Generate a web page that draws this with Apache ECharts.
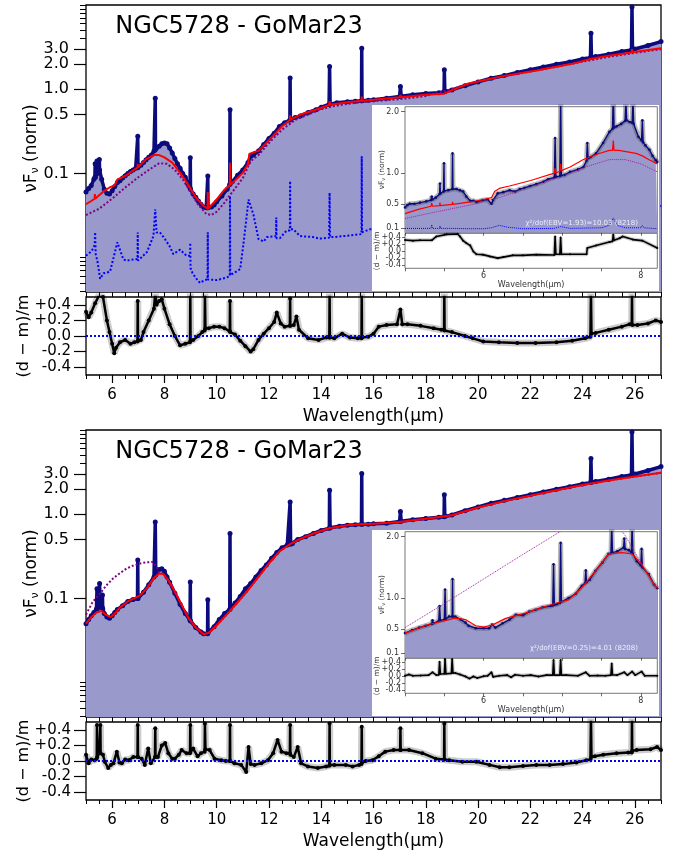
<!DOCTYPE html>
<html><head><meta charset="utf-8">
<script src="https://cdn.jsdelivr.net/npm/echarts@6/dist/echarts.min.js"></script>
<style>html,body{margin:0;padding:0;background:#fff}#c{width:676px;height:854px}</style>
</head><body><div id="c"></div>
<script>
// ---------------- DATA ----------------
const mainXTicks = [6,8,10,12,14,16,18,20,22,24,26];
const mainXMinor = [5,5.5,6,6.5,7,7.5,8,8.5,9,9.5,10,10.5,11,11.5,12,12.5,13,13.5,14,14.5,15,15.5,16,16.5,17,17.5,18,18.5,19,19.5,20,20.5,21,21.5,22,22.5,23,23.5,24,24.5,25,25.5,26,26.5,27];
const mainYTicks = [0.1,0.5,1.0,2.0,3.0];
const mainYMinor = [0.004,0.005,0.006,0.007,0.008,0.009,0.01,4,5,6,7,8,9,10];
const residTicks = [-0.4,-0.2,0,0.2,0.4];
const insetXTicks = [6,8];
const insetXMinor = [5,5.5,6,6.5,7,7.5,8];
const insetYTicks = [0.1,0.5,1.0,2.0];

const titleText = 'NGC5728 - GoMar23';
const topChi = 'χ²/dof(EBV=1.93)=10.03 (8218)';
const botChi = 'χ²/dof(EBV=0.25)=4.01 (8208)';

// top panel: observed spectrum [wavelength, nuFnu]
const topData = [[5.0,0.060],[5.1,0.066],[5.2,0.072],[5.3,0.085],[5.34,0.09],[5.35,0.13],[5.36,0.09],[5.4,0.10],[5.42,0.14],[5.43,0.10],[5.5,0.11],[5.51,0.146],[5.52,0.11],[5.6,0.085],[5.7,0.065],[5.8,0.058],[5.9,0.057],[6.0,0.062],[6.1,0.070],[6.2,0.078],[6.3,0.082],[6.4,0.088],[6.5,0.094],[6.6,0.100],[6.7,0.105],[6.8,0.110],[6.9,0.115],[6.97,0.117],[6.98,0.276],[6.99,0.118],[7.1,0.125],[7.2,0.135],[7.3,0.145],[7.4,0.155],[7.5,0.165],[7.6,0.185],[7.64,0.19],[7.65,0.78],[7.66,0.195],[7.7,0.2],[7.8,0.21],[7.9,0.225],[8.0,0.23],[8.1,0.225],[8.2,0.2],[8.3,0.175],[8.4,0.15],[8.5,0.13],[8.6,0.115],[8.7,0.1],[8.8,0.09],[8.9,0.075],[8.98,0.067],[8.99,0.153],[9.0,0.065],[9.1,0.057],[9.2,0.052],[9.3,0.047],[9.4,0.043],[9.5,0.040],[9.6,0.039],[9.65,0.039],[9.66,0.093],[9.67,0.039],[9.8,0.040],[9.9,0.042],[10.0,0.046],[10.2,0.054],[10.4,0.065],[10.5,0.074],[10.51,0.57],[10.52,0.076],[10.6,0.08],[10.8,0.095],[11.0,0.11],[11.2,0.135],[11.3,0.16],[11.4,0.165],[11.6,0.185],[11.8,0.22],[12.0,0.26],[12.2,0.3],[12.4,0.36],[12.6,0.4],[12.8,0.43],[12.81,1.36],[12.82,0.435],[13.0,0.46],[13.2,0.48],[13.5,0.53],[13.8,0.57],[14.0,0.61],[14.3,0.66],[14.32,1.86],[14.34,0.665],[14.6,0.69],[15.0,0.71],[15.3,0.72],[15.54,0.73],[15.55,3.07],[15.56,0.73],[15.8,0.74],[16.0,0.75],[16.5,0.78],[17.0,0.82],[17.03,1.08],[17.06,0.825],[17.5,0.86],[18.0,0.89],[18.5,0.91],[18.7,0.93],[18.71,1.70],[18.73,0.935],[19.0,0.98],[19.5,1.1],[20.0,1.22],[20.5,1.35],[21.0,1.45],[21.5,1.58],[22.0,1.70],[22.5,1.84],[23.0,1.98],[23.5,2.10],[24.0,2.28],[24.3,2.38],[24.32,4.62],[24.34,2.4],[24.5,2.45],[25.0,2.6],[25.5,2.8],[25.87,2.93],[25.89,9.5],[25.91,2.94],[26.0,3.0],[26.5,3.3],[27.0,3.68]];
const topModel = [[5.0,0.043],[5.2,0.047],[5.33,0.05],[5.34,0.057],[5.35,0.05],[5.5,0.055],[5.7,0.062],[5.9,0.068],[6.1,0.072],[6.2,0.085],[6.5,0.093],[6.8,0.108],[6.97,0.117],[6.98,0.13],[6.99,0.118],[7.3,0.148],[7.6,0.165],[7.8,0.165],[8.0,0.155],[8.3,0.134],[8.6,0.102],[8.9,0.074],[9.2,0.052],[9.5,0.041],[9.65,0.038],[9.66,0.06],[9.67,0.038],[10.0,0.049],[10.3,0.064],[10.5,0.072],[10.51,0.134],[10.52,0.073],[10.8,0.088],[11.0,0.102],[11.2,0.13],[11.25,0.17],[11.4,0.178],[11.6,0.185],[11.9,0.23],[12.2,0.289],[12.5,0.363],[12.8,0.43],[12.81,0.49],[12.82,0.435],[13.2,0.5],[13.8,0.57],[14.3,0.65],[14.32,0.72],[14.34,0.655],[15.0,0.7],[15.54,0.73],[15.55,0.82],[15.56,0.73],[16.0,0.75],[17.0,0.8],[17.03,0.85],[17.06,0.8],[18.0,0.86],[18.7,0.885],[18.71,0.93],[18.72,0.89],[19.6,1.16],[20.9,1.42],[22.24,1.67],[23.6,2.0],[24.3,2.28],[24.32,2.4],[24.34,2.3],[25.0,2.5],[25.88,2.73],[25.89,3.0],[25.9,2.74],[27.0,3.07]];
const topPurple = [[5.0,0.032],[5.5,0.038],[6.0,0.05],[6.5,0.068],[7.0,0.09],[7.5,0.115],[7.8,0.132],[8.1,0.13],[8.4,0.11],[8.7,0.085],[9.0,0.06],[9.3,0.042],[9.6,0.033],[9.8,0.032],[10.0,0.035],[10.3,0.045],[10.6,0.06],[11.0,0.088],[11.3,0.14],[11.6,0.165],[12.0,0.23],[12.5,0.33],[13.0,0.43],[13.5,0.5],[14.0,0.58],[14.5,0.63],[15.0,0.67],[15.5,0.7],[16.0,0.72],[17.0,0.76],[18.0,0.83],[19.0,1.0],[20.0,1.24],[21.0,1.42],[22.0,1.62],[23.0,1.85],[24.0,2.12],[25.0,2.42],[26.0,2.7],[27.0,2.98]];
const topBlue = [[5.0,0.0105],[5.22,0.012],[5.33,0.014],[5.35,0.02],[5.37,0.011],[5.44,0.009],[5.54,0.0056],[5.67,0.0065],[5.92,0.0068],[6.2,0.0152],[6.43,0.0095],[6.56,0.0092],[6.81,0.0095],[6.97,0.0096],[6.98,0.0199],[6.99,0.0092],[7.04,0.0092],[7.33,0.0116],[7.58,0.018],[7.65,0.0375],[7.7,0.0199],[7.83,0.0199],[8.02,0.0166],[8.21,0.0135],[8.34,0.011],[8.6,0.0124],[8.85,0.0105],[8.98,0.0105],[8.99,0.015],[9.0,0.0075],[9.08,0.0065],[9.23,0.0056],[9.36,0.005],[9.55,0.0054],[9.65,0.0055],[9.66,0.02],[9.67,0.0055],[9.74,0.0056],[10.0,0.0054],[10.38,0.0058],[10.5,0.006],[10.51,0.054],[10.52,0.0062],[10.64,0.0065],[10.9,0.0073],[11.03,0.015],[11.22,0.049],[11.41,0.032],[11.6,0.0166],[11.8,0.0155],[11.92,0.0175],[12.27,0.018],[12.28,0.03],[12.29,0.017],[12.42,0.017],[12.68,0.021],[12.8,0.021],[12.81,0.081],[12.82,0.0217],[12.93,0.0217],[13.19,0.018],[13.7,0.0175],[13.95,0.0168],[14.3,0.0172],[14.32,0.059],[14.34,0.0175],[14.46,0.0175],[15.23,0.0185],[15.54,0.019],[15.55,0.16],[15.56,0.02],[15.87,0.0217],[17.0,0.022],[18.7,0.022],[18.71,0.05],[18.72,0.022],[20.0,0.021],[22.0,0.022],[24.3,0.024],[24.32,0.08],[24.34,0.025],[25.87,0.028],[25.89,0.1],[25.91,0.03],[27.0,0.041]];
const topResid = [[5.0,0.31],[5.1,0.24],[5.2,0.3],[5.35,0.42],[5.5,0.52],[5.65,0.5],[5.8,0.2],[5.9,0.05],[6.0,-0.1],[6.08,-0.22],[6.15,-0.15],[6.3,-0.08],[6.5,-0.05],[6.7,-0.1],[6.85,-0.08],[6.97,-0.07],[6.98,0.45],[6.99,-0.06],[7.1,-0.05],[7.2,0.05],[7.4,0.2],[7.6,0.35],[7.65,0.55],[7.7,0.4],[7.8,0.45],[7.9,0.47],[8.0,0.35],[8.2,0.15],[8.4,0.0],[8.6,-0.12],[8.8,-0.1],[8.98,-0.08],[8.99,0.55],[9.0,-0.06],[9.1,-0.05],[9.3,0.0],[9.45,0.05],[9.54,0.07],[9.55,0.55],[9.57,0.1],[9.7,0.1],[9.9,0.12],[10.1,0.12],[10.3,0.1],[10.5,0.06],[10.51,0.45],[10.52,0.05],[10.7,0.02],[10.9,-0.06],[11.1,-0.13],[11.3,-0.2],[11.4,-0.17],[11.6,-0.05],[11.8,0.03],[12.0,0.1],[12.2,0.18],[12.3,0.3],[12.45,0.16],[12.6,0.12],[12.8,0.13],[12.81,0.48],[12.82,0.13],[12.95,0.14],[13.05,0.25],[13.15,0.08],[13.5,-0.03],[13.9,-0.05],[14.2,-0.02],[14.31,-0.02],[14.32,0.55],[14.33,-0.02],[14.5,-0.03],[14.8,0.03],[15.1,-0.02],[15.4,-0.03],[15.54,-0.03],[15.55,0.55],[15.56,-0.02],[15.8,-0.01],[16.0,0.03],[16.2,0.12],[16.5,0.14],[16.9,0.15],[17.03,0.34],[17.1,0.15],[17.3,0.15],[17.8,0.13],[18.3,0.1],[18.6,0.08],[18.7,0.08],[18.71,0.55],[18.72,0.07],[19.0,0.05],[19.5,0.0],[19.8,-0.03],[20.2,-0.07],[20.8,-0.08],[21.5,-0.09],[22.2,-0.09],[23.0,-0.08],[23.6,-0.06],[24.1,-0.03],[24.3,-0.01],[24.32,0.55],[24.34,0.03],[24.5,0.04],[25.0,0.08],[25.5,0.12],[25.8,0.15],[25.88,0.15],[25.89,0.55],[25.9,0.14],[26.1,0.14],[26.5,0.16],[26.8,0.2],[27.0,0.18]];

// top inset (5-8.2 micron, linear)
const tiData = [[5.0,0.44],[5.03,0.48],[5.06,0.5],[5.12,0.5],[5.19,0.52],[5.27,0.54],[5.33,0.56],[5.34,0.62],[5.35,0.57],[5.39,0.6],[5.44,0.66],[5.445,0.83],[5.45,0.67],[5.49,0.7],[5.496,1.16],[5.5,0.71],[5.55,0.72],[5.6,0.74],[5.605,1.32],[5.61,0.74],[5.656,0.74],[5.7,0.72],[5.74,0.7],[5.78,0.62],[5.83,0.55],[5.87,0.55],[5.91,0.53],[5.99,0.56],[6.05,0.57],[6.1,0.5],[6.12,0.56],[6.18,0.67],[6.25,0.69],[6.33,0.72],[6.4,0.7],[6.46,0.74],[6.52,0.76],[6.59,0.79],[6.67,0.82],[6.76,0.86],[6.82,0.9],[6.9,0.93],[6.91,1.57],[6.92,0.94],[6.97,0.95],[6.98,2.3],[6.99,0.96],[7.03,0.97],[7.1,1.02],[7.2,1.06],[7.27,1.1],[7.31,1.2],[7.32,1.49],[7.33,1.24],[7.36,1.26],[7.43,1.32],[7.52,1.49],[7.6,1.67],[7.64,1.72],[7.65,2.3],[7.66,1.74],[7.69,1.76],[7.75,1.8],[7.8,1.85],[7.81,2.2],[7.82,1.86],[7.86,1.83],[7.89,1.82],[7.9,2.2],[7.91,1.8],[7.97,1.59],[8.01,1.53],[8.02,1.86],[8.03,1.5],[8.06,1.45],[8.11,1.38],[8.15,1.28],[8.19,1.21],[8.21,1.18]];
const tiModel = [[5.0,0.34],[5.17,0.41],[5.33,0.46],[5.34,0.51],[5.35,0.46],[5.44,0.47],[5.445,0.52],[5.45,0.47],[5.6,0.49],[5.605,0.53],[5.61,0.49],[5.83,0.53],[6.0,0.57],[6.1,0.6],[6.14,0.7],[6.2,0.75],[6.33,0.79],[6.6,0.88],[6.9,1.0],[6.91,1.08],[6.92,1.0],[6.97,1.03],[6.98,1.15],[6.99,1.04],[7.1,1.1],[7.27,1.22],[7.45,1.31],[7.6,1.37],[7.64,1.37],[7.65,1.53],[7.66,1.37],[7.72,1.37],[7.94,1.32],[8.02,1.28],[8.1,1.22],[8.21,1.15]];
const tiPurple = [[5.0,0.26],[5.4,0.37],[5.83,0.48],[6.2,0.6],[6.6,0.78],[7.0,0.95],[7.3,1.1],[7.6,1.22],[7.8,1.22],[8.0,1.15],[8.21,1.02]];
const tiBlue = [[5.0,0.1],[5.2,0.1],[5.33,0.1],[5.34,0.16],[5.35,0.1],[5.44,0.1],[5.445,0.14],[5.45,0.1],[5.6,0.1],[5.605,0.13],[5.61,0.1],[5.8,0.095],[6.0,0.095],[6.1,0.11],[6.2,0.15],[6.3,0.12],[6.5,0.095],[6.9,0.1],[6.91,0.13],[6.92,0.1],[6.98,0.13],[7.1,0.1],[7.5,0.11],[7.6,0.15],[7.65,0.27],[7.7,0.15],[7.8,0.11],[8.0,0.11],[8.02,0.15],[8.04,0.11],[8.21,0.095]];
const tiResid = [[5.0,0.31],[5.1,0.29],[5.19,0.3],[5.34,0.3],[5.4,0.41],[5.53,0.47],[5.67,0.48],[5.7,0.41],[5.74,0.29],[5.78,0.22],[5.83,0.15],[5.87,-0.02],[5.91,-0.1],[5.99,-0.11],[6.08,-0.16],[6.18,-0.21],[6.25,-0.18],[6.37,-0.13],[6.5,-0.13],[6.67,-0.11],[6.9,-0.12],[6.91,0.41],[6.92,-0.1],[6.97,-0.1],[6.98,0.38],[6.99,-0.1],[7.1,-0.1],[7.31,-0.1],[7.32,0.08],[7.43,0.15],[7.6,0.25],[7.64,0.27],[7.65,0.46],[7.66,0.3],[7.73,0.36],[7.77,0.41],[7.9,0.32],[8.02,0.29],[8.21,0.08]];

// bottom panel
const botData = [[5.0,0.05],[5.1,0.056],[5.2,0.062],[5.3,0.068],[5.4,0.075],[5.42,0.13],[5.44,0.076],[5.5,0.08],[5.52,0.15],[5.54,0.08],[5.62,0.078],[5.63,0.11],[5.64,0.075],[5.7,0.066],[5.8,0.06],[5.9,0.058],[6.0,0.062],[6.1,0.068],[6.2,0.074],[6.4,0.082],[6.6,0.092],[6.8,0.097],[6.97,0.1],[6.98,0.285],[6.99,0.1],[7.2,0.118],[7.4,0.145],[7.6,0.18],[7.65,0.81],[7.67,0.19],[7.7,0.2],[7.8,0.22],[7.9,0.225],[8.0,0.21],[8.1,0.18],[8.2,0.155],[8.4,0.115],[8.6,0.085],[8.8,0.066],[8.98,0.055],[8.99,0.157],[9.0,0.054],[9.2,0.045],[9.4,0.04],[9.5,0.038],[9.65,0.038],[9.66,0.096],[9.67,0.039],[9.9,0.046],[10.1,0.056],[10.3,0.066],[10.5,0.074],[10.51,0.59],[10.52,0.076],[10.7,0.088],[10.9,0.105],[11.1,0.13],[11.3,0.15],[11.5,0.18],[11.7,0.215],[11.9,0.25],[12.1,0.3],[12.3,0.35],[12.5,0.4],[12.7,0.43],[12.81,1.4],[12.83,0.44],[12.9,0.45],[13.1,0.5],[13.4,0.54],[13.7,0.59],[14.0,0.64],[14.31,0.68],[14.32,1.93],[14.34,0.69],[14.7,0.72],[15.0,0.74],[15.3,0.75],[15.54,0.76],[15.55,3.04],[15.56,0.76],[15.8,0.76],[16.0,0.77],[16.5,0.78],[17.0,0.82],[17.03,1.08],[17.06,0.825],[17.5,0.86],[18.0,0.89],[18.5,0.92],[18.7,0.93],[18.71,1.7],[18.73,0.94],[19.0,0.98],[19.5,1.1],[20.0,1.22],[20.5,1.35],[21.0,1.46],[21.5,1.58],[22.0,1.7],[22.5,1.84],[23.0,1.98],[23.5,2.12],[24.0,2.28],[24.3,2.38],[24.32,4.6],[24.34,2.4],[24.5,2.45],[25.0,2.6],[25.5,2.8],[25.87,2.93],[25.89,9.5],[25.91,2.94],[26.0,3.0],[26.5,3.3],[27.0,3.68]];
const botModel = [[5.0,0.05],[5.2,0.06],[5.4,0.068],[5.6,0.071],[5.75,0.064],[5.95,0.06],[6.1,0.066],[6.3,0.078],[6.6,0.092],[6.9,0.102],[7.1,0.11],[7.35,0.135],[7.6,0.175],[7.8,0.198],[7.95,0.195],[8.15,0.165],[8.4,0.12],[8.65,0.085],[8.9,0.06],[9.2,0.045],[9.5,0.0375],[9.7,0.039],[10.0,0.048],[10.4,0.065],[10.8,0.09],[11.2,0.125],[11.6,0.18],[12.0,0.26],[12.4,0.36],[12.8,0.44],[13.2,0.51],[13.7,0.59],[14.3,0.68],[15.0,0.74],[15.5,0.76],[16.0,0.77],[17.0,0.81],[18.0,0.88],[19.0,0.97],[20.0,1.2],[21.0,1.43],[22.0,1.66],[23.0,1.93],[24.0,2.22],[25.0,2.52],[26.0,2.8],[27.0,3.1]];
const botPurple = [[5.0,0.064],[5.25,0.09],[5.54,0.115],[5.8,0.145],[6.04,0.173],[6.3,0.2],[6.56,0.227],[6.8,0.245],[7.07,0.26],[7.3,0.268],[7.55,0.27],[7.7,0.24],[7.8,0.2],[7.95,0.195],[8.15,0.165],[8.4,0.12],[8.65,0.085],[8.9,0.06],[9.2,0.045],[9.5,0.0375],[9.7,0.039],[10.0,0.048],[10.4,0.065],[10.8,0.09],[11.2,0.125],[11.6,0.18],[12.0,0.26],[12.4,0.36],[12.8,0.44],[13.2,0.51],[13.7,0.59],[14.3,0.68],[15.0,0.74],[15.5,0.76],[16.0,0.77],[17.0,0.81],[18.0,0.88],[19.0,0.97],[20.0,1.2],[21.0,1.43],[22.0,1.66],[23.0,1.93],[24.0,2.22],[25.0,2.52],[26.0,2.8],[27.0,3.1]];
const botResid = [[5.0,0.08],[5.1,-0.03],[5.2,0.02],[5.33,0.01],[5.41,0.03],[5.42,0.46],[5.43,0.05],[5.5,0.1],[5.54,0.1],[5.55,0.46],[5.56,0.1],[5.65,0.08],[5.72,-0.01],[5.85,-0.09],[5.95,-0.05],[6.05,-0.03],[6.18,0.12],[6.28,-0.02],[6.37,-0.03],[6.5,0.02],[6.63,0.01],[6.81,0.05],[6.97,0.05],[6.98,0.46],[6.99,0.05],[7.13,0.03],[7.25,-0.05],[7.38,0.16],[7.48,-0.03],[7.64,0.05],[7.65,0.42],[7.66,0.05],[7.75,0.05],[7.9,0.2],[8.03,0.23],[8.15,0.1],[8.3,0.03],[8.4,0.03],[8.55,0.08],[8.66,0.14],[8.85,0.1],[8.98,0.1],[8.99,0.46],[9.0,0.12],[9.1,0.16],[9.27,0.06],[9.4,0.1],[9.54,0.12],[9.55,0.48],[9.57,0.15],[9.73,0.14],[9.92,0.03],[10.18,0.01],[10.35,0.0],[10.5,0.0],[10.51,0.46],[10.52,0.0],[10.68,-0.03],[10.94,-0.05],[11.13,-0.14],[11.22,0.18],[11.3,-0.04],[11.45,-0.05],[11.71,-0.03],[11.96,0.01],[12.16,0.1],[12.33,0.27],[12.48,0.12],[12.67,0.1],[12.8,0.1],[12.81,0.46],[12.82,0.08],[12.95,0.05],[13.1,0.18],[13.23,-0.03],[13.49,-0.07],[13.87,-0.09],[14.19,-0.07],[14.31,-0.06],[14.32,0.48],[14.33,-0.05],[14.5,-0.05],[14.94,-0.05],[15.2,-0.07],[15.45,-0.05],[15.54,-0.04],[15.55,0.44],[15.56,-0.02],[15.7,0.0],[15.95,0.01],[16.2,0.06],[16.45,0.12],[16.77,0.14],[17.02,0.14],[17.03,0.42],[17.04,0.14],[17.36,0.14],[17.87,0.1],[18.38,0.03],[18.7,0.02],[18.71,0.48],[18.72,0.02],[18.9,0.01],[19.4,-0.01],[19.93,-0.01],[20.44,-0.05],[20.83,-0.08],[21.2,-0.08],[21.72,-0.065],[22.23,-0.05],[22.74,-0.05],[23.25,-0.04],[23.76,-0.02],[24.14,0.01],[24.3,0.02],[24.32,0.55],[24.34,0.05],[24.47,0.06],[24.79,0.08],[25.3,0.1],[25.75,0.11],[25.88,0.11],[25.89,0.55],[25.9,0.13],[26.07,0.14],[26.6,0.15],[26.85,0.18],[27.0,0.14]];

const biData = [[5.0,0.43],[5.09,0.48],[5.18,0.52],[5.26,0.55],[5.34,0.58],[5.35,0.64],[5.36,0.59],[5.43,0.63],[5.44,0.87],[5.45,0.64],[5.5,0.65],[5.51,1.14],[5.52,0.66],[5.56,0.7],[5.6,0.7],[5.605,1.31],[5.61,0.7],[5.64,0.7],[5.71,0.65],[5.77,0.6],[5.81,0.55],[5.9,0.51],[6.0,0.51],[6.07,0.51],[6.11,0.57],[6.15,0.52],[6.24,0.59],[6.33,0.65],[6.41,0.73],[6.5,0.72],[6.58,0.78],[6.66,0.81],[6.75,0.85],[6.85,0.87],[6.88,0.88],[6.89,1.55],[6.9,0.89],[6.93,0.9],[6.97,0.92],[6.98,1.9],[6.99,0.94],[7.08,1.0],[7.17,1.07],[7.25,1.2],[7.29,1.24],[7.3,1.45],[7.31,1.26],[7.35,1.3],[7.42,1.44],[7.51,1.58],[7.59,1.72],[7.62,1.73],[7.63,2.2],[7.64,1.74],[7.7,1.76],[7.78,1.82],[7.79,1.97],[7.8,1.8],[7.85,1.78],[7.88,1.74],[7.89,2.2],[7.9,1.72],[7.95,1.6],[8.0,1.53],[8.01,1.8],[8.02,1.5],[8.1,1.39],[8.17,1.22],[8.21,1.16]];
const biModel = [[5.0,0.43],[5.3,0.57],[5.64,0.675],[5.77,0.65],[5.9,0.55],[6.0,0.53],[6.11,0.56],[6.28,0.67],[6.54,0.76],[6.75,0.85],[6.93,0.92],[7.08,0.97],[7.25,1.17],[7.42,1.44],[7.59,1.72],[7.76,1.74],[7.89,1.72],[8.01,1.55],[8.17,1.22],[8.21,1.16]];
const biPurple = [[5.0,0.52],[5.5,0.91],[6.0,1.31],[6.5,1.71],[6.96,2.07],[7.2,2.3],[7.5,2.4],[7.7,2.2],[7.8,2.02],[7.9,1.8],[8.0,1.58],[8.1,1.38],[8.17,1.22],[8.21,1.16]];
const biResid = [[5.0,0.0],[5.05,0.04],[5.1,0.0],[5.2,0.01],[5.3,0.02],[5.35,0.1],[5.4,0.02],[5.43,0.03],[5.44,0.4],[5.45,0.05],[5.5,0.06],[5.51,0.48],[5.52,0.06],[5.59,0.07],[5.6,0.48],[5.61,0.08],[5.64,0.08],[5.7,0.04],[5.77,-0.02],[5.82,-0.08],[5.87,-0.02],[5.92,-0.06],[6.0,-0.01],[6.05,0.0],[6.1,0.1],[6.12,-0.03],[6.2,0.0],[6.3,0.02],[6.35,-0.04],[6.4,0.03],[6.5,0.0],[6.6,0.02],[6.7,-0.02],[6.8,0.02],[6.88,0.02],[6.89,0.45],[6.9,0.02],[6.97,0.02],[6.98,0.45],[6.99,0.02],[7.05,0.02],[7.2,0.0],[7.3,0.1],[7.35,0.0],[7.45,0.01],[7.55,0.0],[7.62,0.02],[7.63,0.35],[7.64,0.03],[7.7,0.02],[7.79,0.1],[7.83,0.02],[7.89,0.12],[7.93,0.02],[8.01,0.12],[8.05,0.0],[8.21,0.0]];

// ---------------- BUILD ----------------
const FONT = 'DejaVu Sans';
const NAVY = '#0b0b7d';
const FILL = '#9999cc';
const lg = v => Math.log10(v);
const toLog = arr => arr.map(p => [p[0], Math.log10(p[1])]);
const LOGMIN = lg(0.0039), LOGMAX = 1;
const fmtR = v => { const r = Math.round(v*10)/10; return r > 0 ? '+' + r.toFixed(1) : (r === 0 ? '0.0' : r.toFixed(1)); };
const everyOther = (arr, start) => arr.filter((_, i) => i % 2 === start);

const grids = [], xAxes = [], yAxes = [], series = [], graphics = [];
function S(o) { series.push(Object.assign({type:'line', animation:false, silent:true, symbol:'none', showSymbol:false, clip:true}, o)); }
const tk = (len, w, c) => ({lineStyle:{color:c||'#000', width:w||1}, length:len});
const noLine = {show:false, onZero:false};
function addX(o) { xAxes.push(Object.assign({type:'value', splitLine:{show:false}, axisLine:noLine, position:'bottom'}, o)); return xAxes.length - 1; }
function addY(o) { yAxes.push(Object.assign({type:'value', splitLine:{show:false}, axisLine:noLine, position:'left', nameMoveOverlap:false}, o)); return yAxes.length - 1; }

function buildPanel(k, dy, P) {
  const gb = grids.length;
  grids.push({left:86, top:5+dy, width:575, height:287, show:true, borderColor:'#000', borderWidth:1.3, backgroundColor:'transparent'});
  grids.push({left:86, top:297+dy, width:575, height:78, show:true, borderColor:'#000', borderWidth:1.3, backgroundColor:'transparent'});
  grids.push({left:405, top:106.7+dy, width:252.3, height:126, show:true, borderColor:'#555', borderWidth:0.8, backgroundColor:'transparent', z:60});
  grids.push({left:405, top:233.3+dy, width:252.3, height:35, show:true, borderColor:'#555', borderWidth:0.8, backgroundColor:'transparent', z:60});

  // x axes
  const xMain = addX({gridIndex:gb, min:5, max:27, axisLabel:{show:false}, axisTick:Object.assign({customValues:mainXMinor}, tk(5))});
  const xRes = addX({gridIndex:gb+1, min:5, max:27,
    axisLabel:{customValues:mainXTicks, fontSize:15, color:'#000', fontFamily:FONT, margin:13, hideOverlap:false},
    axisTick:Object.assign({customValues:mainXTicks}, tk(8, 1.2)),
    name:'Wavelength(μm)', nameLocation:'middle', nameGap:33, nameMoveOverlap:false, nameTextStyle:{fontSize:17, color:'#000', fontFamily:FONT}});
  addX({gridIndex:gb+1, min:5, max:27, axisLabel:{show:false}, axisTick:Object.assign({customValues:mainXMinor}, tk(4))});
  const xIn = addX({gridIndex:gb+2, min:5, max:8.21, z:60, axisLabel:{show:false}, axisTick:Object.assign({customValues:insetXMinor}, tk(3, 0.8, '#444'))});
  const xInR = addX({gridIndex:gb+3, min:5, max:8.21, z:60,
    axisLabel:{customValues:insetXTicks, fontSize:8, color:'#333', fontFamily:FONT, margin:4},
    axisTick:Object.assign({customValues:insetXMinor}, tk(3, 0.8, '#444')),
    name:'Wavelength(μm)', nameLocation:'middle', nameGap:13, nameMoveOverlap:false, nameTextStyle:{fontSize:8, color:'#333', fontFamily:FONT}});
  // y axes
  const yMain = addY({gridIndex:gb, min:LOGMIN, max:LOGMAX,
    axisLabel:{customValues:everyOther(mainYTicks, 0).map(lg), formatter:v => Math.pow(10, v).toFixed(1), fontSize:16, color:'#000', fontFamily:FONT, margin:17, hideOverlap:false},
    axisTick:Object.assign({customValues:mainYTicks.map(lg)}, tk(12, 1.2)),
    name:'{a|νF}{b|ν}{a| (norm)}', nameLocation:'middle', nameGap:43,
    nameTextStyle:{color:'#000', fontFamily:FONT, rich:{a:{fontSize:17, color:'#000', fontFamily:FONT, lineHeight:22}, b:{fontSize:11, color:'#000', fontFamily:FONT, lineHeight:22, padding:[7,0,0,0]}}}});
  addY({gridIndex:gb, min:LOGMIN, max:LOGMAX,
    axisLabel:{customValues:everyOther(mainYTicks, 1).map(lg), formatter:v => Math.pow(10, v).toFixed(1), fontSize:16, color:'#000', fontFamily:FONT, margin:17, hideOverlap:false},
    axisTick:{show:false}});
  addY({gridIndex:gb, min:LOGMIN, max:LOGMAX, axisLabel:{show:false}, axisTick:Object.assign({customValues:mainYMinor.map(lg)}, tk(6))});
  const yRes = addY({gridIndex:gb+1, min:-0.5, max:0.5,
    axisLabel:{customValues:residTicks, formatter:fmtR, fontSize:15, lineHeight:11, color:'#000', fontFamily:FONT, margin:15, hideOverlap:false},
    axisTick:Object.assign({customValues:residTicks}, tk(12, 1.2)),
    name:'(d − m)/m', nameLocation:'middle', nameGap:54, nameTextStyle:{fontSize:16, color:'#000', fontFamily:FONT}});
  const yIn = addY({gridIndex:gb+2, min:0.03, max:2.08, z:60,
    axisLabel:{customValues:insetYTicks, formatter:v => v.toFixed(1), fontSize:8, color:'#333', fontFamily:FONT, margin:6},
    axisTick:Object.assign({customValues:insetYTicks}, tk(4, 0.8, '#444')),
    name:'{a|νF}{b|ν}{a| (norm)}', nameLocation:'middle', nameGap:18,
    nameTextStyle:{color:'#333', fontFamily:FONT, rich:{a:{fontSize:7.5, color:'#333', fontFamily:FONT, lineHeight:10}, b:{fontSize:5, color:'#333', fontFamily:FONT, lineHeight:10, padding:[3,0,0,0]}}}});
  const yInR = addY({gridIndex:gb+3, min:-0.5, max:0.5, z:60,
    axisLabel:{customValues:everyOther(residTicks, 0), formatter:fmtR, fontSize:8, color:'#333', fontFamily:FONT, margin:4, hideOverlap:false},
    axisTick:Object.assign({customValues:residTicks}, tk(3, 0.8, '#444')),
    name:'(d − m)/m', nameLocation:'middle', nameGap:24, nameTextStyle:{fontSize:7.5, color:'#333', fontFamily:FONT}});
  addY({gridIndex:gb+3, min:-0.5, max:0.5, z:60,
    axisLabel:{customValues:everyOther(residTicks, 1), formatter:fmtR, fontSize:8, color:'#333', fontFamily:FONT, margin:4, hideOverlap:false},
    axisTick:{show:false}});

  // main spectrum
  const dLog = toLog(P.data);
  S({xAxisIndex:xMain, yAxisIndex:yMain, data:dLog, lineStyle:{width:0, opacity:0}, areaStyle:{color:FILL, opacity:1, origin:'start'}, z:1});
  if (P.blue) S({xAxisIndex:xMain, yAxisIndex:yMain, data:toLog(P.blue), lineStyle:{color:'#0000ff', width:2, type:'dotted'}, z:2});
  S({xAxisIndex:xMain, yAxisIndex:yMain, data:dLog, symbol:'circle', showSymbol:true, symbolSize:5, itemStyle:{color:NAVY}, lineStyle:{color:NAVY, width:3.5}, z:3});
  S({xAxisIndex:xMain, yAxisIndex:yMain, data:toLog(P.purple), lineStyle:{color:'#800080', width:2, type:'dotted'}, z:4});
  S({xAxisIndex:xMain, yAxisIndex:yMain, data:toLog(P.model), lineStyle:{color:'#ff0000', width:2}, z:5});
  // residuals
  S({xAxisIndex:xRes, yAxisIndex:yRes, data:P.resid, lineStyle:{color:'rgba(0,0,0,0.2)', width:7}, z:2});
  S({xAxisIndex:xRes, yAxisIndex:yRes, data:P.resid, symbol:'circle', showSymbol:true, symbolSize:4, itemStyle:{color:'#000'}, lineStyle:{color:'#000', width:2.5}, z:3,
     markLine:{silent:true, animation:false, symbol:'none', label:{show:false}, lineStyle:{color:'#0000ff', type:'dotted', width:2}, data:[{yAxis:0}]}});
  // inset
  S({xAxisIndex:xIn, yAxisIndex:yIn, data:P.iData, lineStyle:{width:0, opacity:0}, areaStyle:{color:FILL, opacity:1, origin:'start'}, z:61});
  S({xAxisIndex:xIn, yAxisIndex:yIn, data:P.iData, lineStyle:{color:'rgba(80,80,80,0.4)', width:5}, z:62});
  if (P.iBlue) S({xAxisIndex:xIn, yAxisIndex:yIn, data:P.iBlue, lineStyle:{color:'#0000ff', width:1, type:'dotted'}, z:63});
  S({xAxisIndex:xIn, yAxisIndex:yIn, data:P.iData, symbol:'circle', showSymbol:true, symbolSize:2.6, itemStyle:{color:NAVY}, lineStyle:{color:NAVY, width:1.4}, z:64});
  S({xAxisIndex:xIn, yAxisIndex:yIn, data:P.iPurple, lineStyle:{color:'#a020a0', width:1, type:'dotted'}, z:65});
  S({xAxisIndex:xIn, yAxisIndex:yIn, data:P.iModel, lineStyle:{color:'#ff0000', width:1.2}, z:66});
  S({xAxisIndex:xInR, yAxisIndex:yInR, data:P.iResid, lineStyle:{color:'rgba(0,0,0,0.2)', width:4}, z:61});
  S({xAxisIndex:xInR, yAxisIndex:yInR, data:P.iResid, symbol:'circle', showSymbol:true, symbolSize:2, itemStyle:{color:'#000'}, lineStyle:{color:'#000', width:1.6}, z:62,
     markLine:{silent:true, animation:false, symbol:'none', label:{show:false}, lineStyle:{color:'#0000ff', type:'dotted', width:1}, data:[{yAxis:0}]}});

  graphics.push({type:'rect', shape:{x:372, y:105+dy, width:287, height:186}, style:{fill:'#fff'}, z:50, silent:true});
  graphics.push({type:'text', x:239, y:27+dy, style:{text:titleText, fontSize:24, fontFamily:FONT, fill:'#000', align:'center', verticalAlign:'middle'}, z:70, silent:true});
  graphics.push({type:'text', x:638, y:222.7+dy, style:{text:P.chi, fontSize:7, fontFamily:FONT, fill:'#eeeef8', align:'right', verticalAlign:'middle'}, z:70, silent:true});
}

buildPanel(0, 0, {data:topData, model:topModel, purple:topPurple, blue:topBlue, resid:topResid,
  iData:tiData, iModel:tiModel, iPurple:tiPurple, iBlue:tiBlue, iResid:tiResid, chi:topChi});
buildPanel(1, 425, {data:botData, model:botModel, purple:botPurple, resid:botResid,
  iData:biData, iModel:biModel, iPurple:biPurple, iResid:biResid, chi:botChi});

const chart = echarts.init(document.getElementById('c'), null, {renderer:'canvas'});
chart.setOption({
  animation:false,
  backgroundColor:'#fff',
  textStyle:{fontFamily:FONT},
  grid:grids, xAxis:xAxes, yAxis:yAxes, series:series,
  graphic:{elements:graphics}
});
</script></body></html>
